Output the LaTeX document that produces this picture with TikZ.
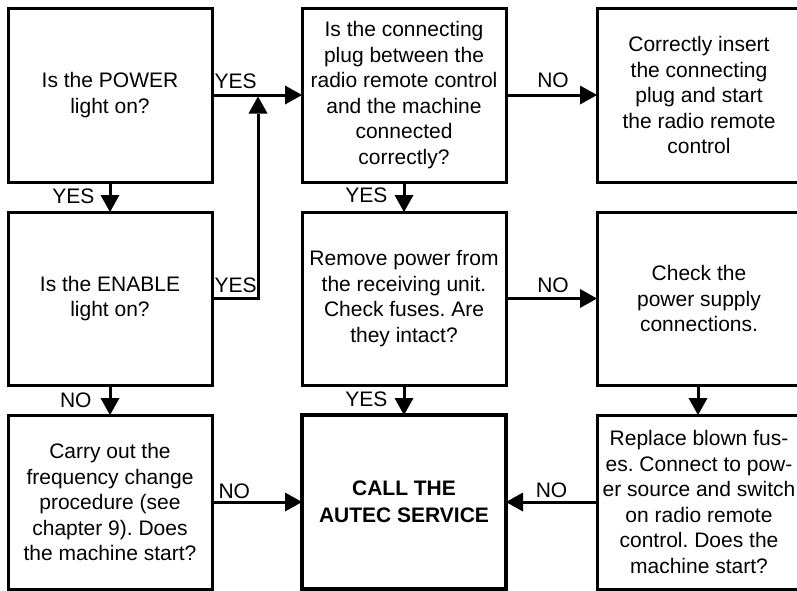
\documentclass[tikz,border=0pt]{standalone}
\usepackage{fontspec}
\setmainfont{Liberation Sans}
\usetikzlibrary{arrows.meta}
\frenchspacing
\begin{document}
\begin{tikzpicture}[x=1pt,y=-1pt,
  txt/.style={font=\fontsize{21pt}{25.5pt}\selectfont},
  box/.style={txt, draw, line width=3pt, outer sep=0pt, inner sep=0pt, align=center,
    minimum width=204pt, minimum height=174pt},
  boxc/.style={box, minimum width=204pt},
  finalbox/.style={box, line width=4.2pt, font=\fontsize{21pt}{27pt}\selectfont\bfseries},
  conn/.style={line width=3pt, line join=miter, -{Triangle[length=17pt,width=19pt,line width=0pt]}},
  lab/.style={txt, inner sep=0pt}]
\useasboundingbox (0,0) rectangle (797,590);
% row 1
\node[box]  (a1) at (110,95) {Is the POWER\\light on?};
\node[box]  (b1) at (404,95) {Is the connecting\\plug between the\\radio remote control\\and the machine\\connected\\correctly?};
\node[boxc] (c1) at (699,95) {Correctly insert\\the connecting\\plug and start\\the radio remote\\control};
% row 2
\node[box, minimum height=173pt]  (a2) at (110,298.5) {Is the ENABLE\\light on?};
\node[box, minimum height=173pt]  (b2) at (404,298.5) {Remove power from\\the receiving unit.\\Check fuses. Are\\they intact?};
\node[boxc, minimum height=173pt] (c2) at (699,298.5) {Check the\\power supply\\connections.};
% row 3
\node[box]      (a3) at (110,502) {Carry out the\\frequency change\\procedure (see\\chapter 9). Does\\the machine start?};
\node[finalbox] (b3) at (404,502) {CALL THE\\AUTEC SERVICE};
\node[boxc]     (c3) at (699,502) {Replace blown fus-\\es. Connect to pow-\\er source and switch\\on radio remote\\control. Does the\\machine start?};
\coordinate (j) at (258,95);
\coordinate (c2s) at (698,385);
\coordinate (c3n) at (698,415);
% connectors
\draw[conn] (a1.east) -- node[lab, pos=0, anchor=base west, xshift=1pt, yshift=7pt] {YES} (b1.west);
\draw[conn, shorten >=1.5pt] (a2.east) -| node[lab, pos=0, anchor=base west, xshift=1pt, yshift=6.5pt] {YES} (j);
\draw[conn] (b1.east) -- node[lab, anchor=base, xshift=1.5pt, yshift=8pt] {NO} (c1.west);
\draw[conn] (b2.east) -- node[lab, anchor=base, xshift=1.5pt, yshift=6.5pt] {NO} (c2.west);
\draw[conn] (a1.south) -- node[lab, anchor=base east, xshift=-14pt, yshift=-6pt] {YES} (a2.north);
\draw[conn] (a2.south) -- node[lab, anchor=base east, xshift=-17pt, yshift=-7pt] {NO} (a3.north);
\draw[conn] (b1.south) -- node[lab, anchor=base east, xshift=-15pt, yshift=-5pt] {YES} (b2.north);
\draw[conn] (b2.south) -- node[lab, anchor=base east, xshift=-15pt, yshift=-6pt] {YES} (b3.north);
\draw[conn] (c2.south -| c2s) -- (c3.north -| c3n);
\draw[conn] (a3.east) -- node[lab, pos=0, anchor=base west, xshift=5pt, yshift=4pt] {NO} (b3.west);
\draw[conn] (c3.west) -- node[lab, anchor=base, yshift=4.5pt] {NO} (b3.east);
\end{tikzpicture}
\end{document}
